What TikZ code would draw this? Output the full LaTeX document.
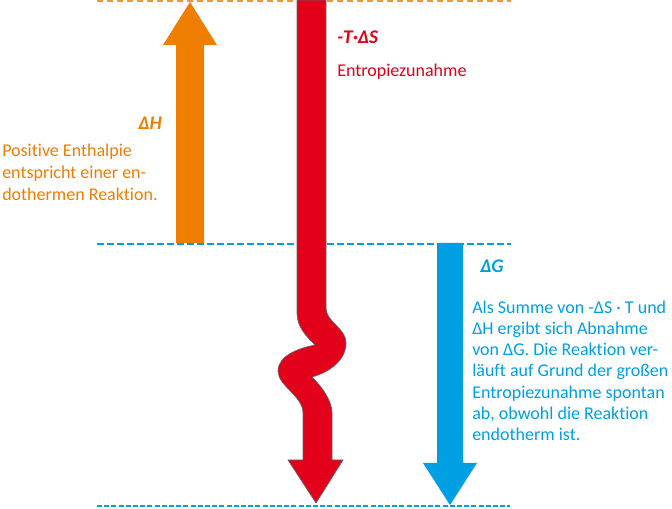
\documentclass[tikz,border=0pt]{standalone}
\usepackage{fontspec}
\setmainfont{Carlito}[Ligatures=NoCommon]
\usetikzlibrary{positioning}

\definecolor{enthalpy}{HTML}{EF7D00}
\definecolor{entropy}{HTML}{E2001A}
\definecolor{gibbs}{HTML}{009FE3}

\tikzset{
    level/.style={line width=1.5pt},
    textblock/.style={inner sep=0pt, anchor=north west, align=left, font=\fontsize{13.5}{15.9}\selectfont},
    symbol/.style={inner sep=0pt, font=\fontsize{14.5}{16}\selectfont\bfseries\itshape},
}

\begin{document}
\begin{tikzpicture}[x=0.75pt, y=-0.75pt]
    \useasboundingbox (0,0) rectangle (672,509);

    % energy levels
    \draw[level, enthalpy!80, dash pattern=on 4.5pt off 3pt] (97,1.5) -- (511,1.5);
    \draw[level, gibbs, dash pattern=on 5pt off 2.5pt] (97,244.5) -- (511,244.5);
    \draw[line width=2.2pt, gibbs, dash pattern=on 3.8pt off 1.6pt] (97,506) -- (510,506);

    % Delta H
    \fill[enthalpy] (176,243) -- (176,45) -- (163,45) -- (190,2) -- (217,45) -- (204,45) -- (204,243) -- cycle;
    \node[symbol, enthalpy, anchor=base east] (dH) at (162,130) {ΔH};
    \node[textblock, enthalpy, font=\fontsize{13.5}{16.4}\selectfont] (dHtext) at (2,144) {Positive Enthalpie\\entspricht einer en-\\dothermen Reaktion.};

    % -T Delta S
    \fill[entropy, draw=black!60, line width=0.5pt]
        (297,0) -- (297,313)
        .. controls (297,327) and (306,336) .. (315,345)
        .. controls (300,348) and (278,355) .. (278,371)
        .. controls (278,386) and (303,396) .. (303,413)
        -- (303,460) -- (288,460) -- (316,503) -- (343,460) -- (332,460) -- (332,413)
        .. controls (332,400) and (321,386) .. (312,377)
        .. controls (330,372) and (346,360) .. (346,343)
        .. controls (346,328) and (326,322) .. (326,308)
        -- (326,0) -- cycle;
    \node[symbol, entropy, anchor=base west] (TdS) at (337,44) {-T·ΔS};
    \node[inner sep=0pt, anchor=base west, entropy, font=\fontsize{13.5}{15.9}\selectfont] (dStext) at (337,76.5) {Entropiezunahme};

    % Delta G
    \fill[gibbs] (437,243) -- (437,463) -- (423,463) -- (450,505) -- (477,463) -- (463,463) -- (463,243) -- cycle;
    \node[symbol, gibbs, anchor=base west] (dG) at (480,273) {ΔG};
    \node[textblock, gibbs] (dGtext) at (472,300.5) {Als Summe von -ΔS · T und\\ΔH ergibt sich Abnahme\\von ΔG. Die Reaktion ver-\\läuft auf Grund der großen\\Entropiezunahme spontan\\ab, obwohl die Reaktion\\endotherm ist.};
\end{tikzpicture}
\end{document}
